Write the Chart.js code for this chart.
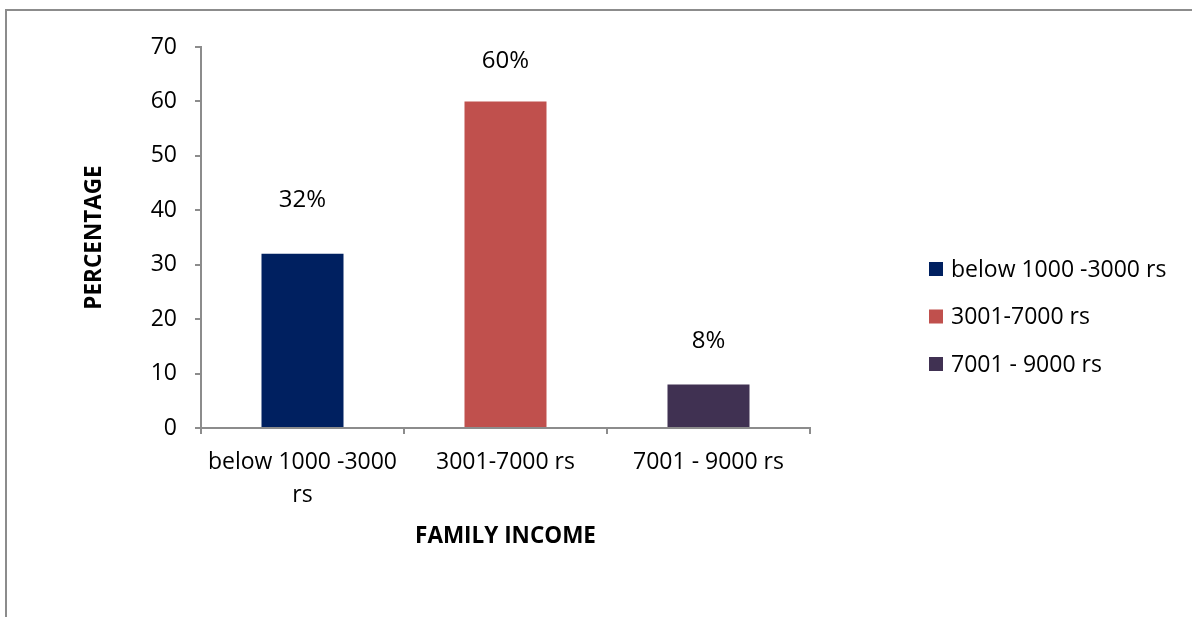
<!DOCTYPE html>
<html lang="en">
<head>
    <meta charset="UTF-8">
    <title>Family Income</title>
    <script src="https://cdn.jsdelivr.net/npm/chart.js"></script>
    <style>
        body { margin: 0; overflow: hidden; background: #fff; }
        #frame { position: absolute; left: 5px; top: 9px; width: 1400px; height: 800px; border: 2px solid #8c8c8c; }
        #wrap { position: absolute; left: 0; top: 0; width: 1192px; height: 617px; }
    </style>
</head>
<body>
    <div id="frame"></div>
    <div id="wrap"><canvas id="incomeChart" width="1192" height="617"></canvas></div>

    <script>
        // income groups and share of families in each
        const categories = ['below 1000 -3000 rs', '3001-7000 rs', '7001 - 9000 rs'];
        const tickLabels = [['below 1000 -3000', 'rs'], '3001-7000 rs', '7001 - 9000 rs'];
        const percentages = [32, 60, 8];
        const barColors = ['#002060', '#C0504D', '#403152'];
        const yMin = 0;
        const yMax = 70;
        const yStep = 10;

        const FONT = '"Open Sans", "Liberation Sans", sans-serif';
        const AXIS_GREY = '#8c8c8c';

        // percentage text above each bar
        const valueLabels = {
            id: 'valueLabels',
            afterDatasetsDraw(chart, args, opts) {
                const ctx = chart.ctx;
                const meta = chart.getDatasetMeta(0);
                ctx.save();
                ctx.font = opts.font;
                ctx.fillStyle = '#000';
                ctx.textAlign = 'center';
                ctx.textBaseline = 'middle';
                meta.data.forEach((bar, i) => {
                    ctx.fillText(percentages[i] + '%', bar.x, bar.y - opts.lift[i]);
                });
                ctx.restore();
            }
        };

        // one legend entry per bar, to the right of the plot
        const sideLegend = {
            id: 'sideLegend',
            afterDraw(chart, args, opts) {
                const ctx = chart.ctx;
                const x = chart.chartArea.right + opts.gap;
                ctx.save();
                ctx.font = opts.font;
                ctx.textBaseline = 'middle';
                categories.forEach((name, i) => {
                    const y = opts.top + i * opts.spacing;
                    ctx.fillStyle = barColors[i];
                    ctx.fillRect(x, y - 7, 14, 14);
                    ctx.fillStyle = '#000';
                    ctx.fillText(name, x + 22, y + 1);
                });
                ctx.restore();
            }
        };

        const ctx = document.getElementById('incomeChart').getContext('2d');
        new Chart(ctx, {
            type: 'bar',
            data: {
                labels: tickLabels,
                datasets: [{
                    label: 'Family income',
                    data: percentages,
                    backgroundColor: barColors,
                    borderWidth: 0,
                    barPercentage: 0.404,
                    categoryPercentage: 1
                }]
            },
            options: {
                responsive: false,
                animation: false,
                layout: { padding: { left: 77, top: 47, right: 382, bottom: 63 } },
                plugins: {
                    legend: { display: false },
                    tooltip: { enabled: false },
                    valueLabels: { font: '24px ' + FONT, lift: [54, 40, 43] },
                    sideLegend: { font: '23px ' + FONT, gap: 119, top: 269, spacing: 47.5 }
                },
                scales: {
                    x: {
                        grid: { drawOnChartArea: false, tickLength: 6, color: AXIS_GREY, lineWidth: 2, offset: true },
                        border: { color: AXIS_GREY, width: 2 },
                        ticks: {
                            color: '#000',
                            font: { family: FONT, size: 23, lineHeight: 1.43 },
                            padding: 12,
                            maxRotation: 0,
                            autoSkip: false
                        },
                        title: {
                            display: true,
                            text: 'FAMILY INCOME',
                            color: '#000',
                            font: { family: FONT, size: 22.5, weight: 'bold' }
                        },
                        afterFit(scale) { scale.height = 126; }
                    },
                    y: {
                        min: yMin,
                        max: yMax,
                        grid: { drawOnChartArea: false, tickLength: 6, color: AXIS_GREY, lineWidth: 2 },
                        border: { color: AXIS_GREY, width: 2 },
                        ticks: {
                            stepSize: yStep,
                            color: '#000',
                            font: { family: FONT, size: 23 },
                            padding: 18
                        },
                        title: {
                            display: true,
                            text: 'PERCENTAGE',
                            color: '#000',
                            font: { family: FONT, size: 22.5, weight: 'bold' }
                        },
                        afterFit(scale) { scale.width = 124; }
                    }
                }
            },
            plugins: [valueLabels, sideLegend]
        });
    </script>
</body>
</html>
